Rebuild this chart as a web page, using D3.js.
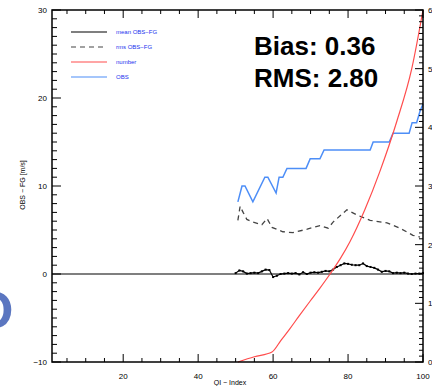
<!DOCTYPE html>
<html>
<head>
<meta charset="utf-8">
<script src="https://d3js.org/d3.v7.min.js"></script>
<style>
body { margin: 0; background: #fff; }
svg { display: block; font-family: "Liberation Sans", Arial, sans-serif; }
</style>
</head>
<body>
<div id="chart"></div>
<script>
// ---- data ----
var meanQI = [50,51,52,53,54,55,56,57,58,59,60,61,62,63,64,65,66,67,68,69,70,71,72,73,74,75,
              76,77,78,79,80,81,82,83,84,85,86,87,88,89,90,91,92,93,94,95,96,97,98,99,100];
var meanVal = [0.1,0.4,0.3,0.05,0.1,0.15,0.1,0.3,0.5,0.45,-0.35,-0.2,0.0,0.05,0.1,0.05,0.1,-0.05,0.2,0.0,
               0.15,0.2,0.15,0.25,0.35,0.3,0.5,0.8,1.0,1.2,1.15,1.05,1.0,1.0,1.2,0.9,0.8,0.7,0.5,0.25,
               0.35,0.3,0.1,0.15,0.1,0.15,0.05,0.0,0.05,0.05,0.1];

var rmsQI  = [50.6,51.2,52.0,53.0,54.6,57.0,58.4,59.7,62.6,65.3,69.1,72.5,74.7,76.0,79.7,82.4,85.9,90.4,93.9,97.3,99.2];
var rmsVal = [6.1,7.7,7.0,6.2,5.9,5.6,6.3,5.3,4.8,4.7,5.1,5.5,5.2,5.9,7.3,6.7,6.1,5.8,5.2,4.4,4.2];

var numQI  = [50.6,55,59.7,62,64.5,67,69.9,72.5,75.2,78,80.5,84.5,88.5,93,97,100];
var numVal = [0,0.09,0.17,0.36,0.57,0.79,1.04,1.26,1.5,1.77,2.05,2.6,3.25,4.1,5.0,6.0];

var obsQI  = [50.6,51.7,52.5,54.6,57.8,58.6,60.8,61.6,62.6,63.7,68.8,69.9,72.5,73.6,85.9,86.7,91.0,92.0,96.3,97.1,98.3,99.2,100];
var obsVal = [8.2,10.0,10.0,8.2,11.0,11.0,9.2,11.0,11.0,12.0,12.0,13.1,13.1,14.1,14.1,15.0,15.0,16.0,16.0,17.2,17.2,18.5,19.3];

var legendLabels = ["mean OBS\u2212FG", "rms OBS\u2212FG", "number", "OBS"];
var xTickLabels = [20, 40, 60, 80, 100];
var yTickLabels = [-10, 0, 10, 20, 30];
var rightTickLabels = [0, 1, 2, 3, 4, 5, 6];

var W = 432, H = 386;
var svg = d3.select("#chart").append("svg").attr("width", W).attr("height", H);

var x = d3.scaleLinear().domain([1, 100]).range([52, 423]);
var y = d3.scaleLinear().domain([-10, 30]).range([362, 10]);
var yr = d3.scaleLinear().domain([0, 6]).range([362, 10]);

// big cropped blue letter at left edge
svg.append("text").attr("x", -27).attr("y", 328)
  .attr("font-size", 52).attr("font-weight", "bold")
  .attr("fill", "#5b76c0").text("O");

// zero line
svg.append("line").attr("x1", x(1)).attr("x2", x(100))
  .attr("y1", y(0)).attr("y2", y(0))
  .attr("stroke", "#000").attr("stroke-width", 1.2);

var line = d3.line().x(function(d) { return x(d[0]); }).y(function(d) { return y(d[1]); });
var lineR = d3.line().curve(d3.curveMonotoneX)
  .x(function(d) { return x(d[0]); }).y(function(d) { return yr(d[1]); });

svg.append("path").datum(d3.zip(obsQI, obsVal)).attr("d", line)
  .attr("fill", "none").attr("stroke", "#4d8ef7").attr("stroke-width", 1.5);

svg.append("path").datum(d3.zip(rmsQI, rmsVal)).attr("d", line)
  .attr("fill", "none").attr("stroke", "#444").attr("stroke-width", 1.3)
  .attr("stroke-dasharray", "5,4");

svg.append("path").datum(d3.zip(meanQI, meanVal)).attr("d", line)
  .attr("fill", "none").attr("stroke", "#000").attr("stroke-width", 1.2);
svg.selectAll(".dot").data(d3.zip(meanQI, meanVal)).enter().append("rect")
  .attr("x", function(d) { return x(d[0]) - 1; }).attr("y", function(d) { return y(d[1]) - 1; })
  .attr("width", 2).attr("height", 2).attr("fill", "#000");

svg.append("path").datum(d3.zip(numQI, numVal)).attr("d", lineR)
  .attr("fill", "none").attr("stroke", "#ff4c4c").attr("stroke-width", 1.2);

// axes (ticks pointing inward)
function ticksX(g, dir) {
  var minor = d3.range(5, 101, 5);
  g.selectAll("line").data(minor).enter().append("line")
    .attr("x1", function(d) { return x(d); }).attr("x2", function(d) { return x(d); })
    .attr("y1", 0).attr("y2", function(d) { return dir * (d % 20 === 0 ? 8 : 4); })
    .attr("stroke", "#000").attr("stroke-width", 1);
}
var axBottom = svg.append("g").attr("transform", "translate(0," + y(-10) + ")");
ticksX(axBottom, -1);
var axTop = svg.append("g").attr("transform", "translate(0," + y(30) + ")");
ticksX(axTop, 1);

var axLeft = svg.append("g");
axLeft.selectAll("line").data(d3.range(-10, 31, 1)).enter().append("line")
  .attr("x1", x(1)).attr("x2", function(d) { return x(1) + (d % 10 === 0 ? 9 : 5); })
  .attr("y1", function(d) { return y(d); }).attr("y2", function(d) { return y(d); })
  .attr("stroke", "#000").attr("stroke-width", 1);

var axRight = svg.append("g");
axRight.selectAll("line").data(d3.range(0, 61, 1)).enter().append("line")
  .attr("x1", x(100)).attr("x2", function(d) { return x(100) - (d % 10 === 0 ? 8 : 4); })
  .attr("y1", function(d) { return yr(d / 10); }).attr("y2", function(d) { return yr(d / 10); })
  .attr("stroke", "#000").attr("stroke-width", 1);

svg.append("rect").attr("x", x(1)).attr("y", y(30))
  .attr("width", x(100) - x(1)).attr("height", y(-10) - y(30))
  .attr("fill", "none").attr("stroke", "#000").attr("stroke-width", 1.5);

// tick labels
svg.selectAll(".xl").data(xTickLabels).enter().append("text")
  .attr("x", function(d) { return x(d); }).attr("y", 379)
  .attr("text-anchor", "middle").attr("font-size", 8).text(function(d) { return d; });
svg.selectAll(".yl").data(yTickLabels).enter().append("text")
  .attr("x", 47).attr("y", function(d) { return y(d) + 3; })
  .attr("text-anchor", "end").attr("font-size", 8)
  .text(function(d) { return d < 0 ? "\u2212" + Math.abs(d) : d; });
svg.selectAll(".rl").data(rightTickLabels).enter().append("text")
  .attr("x", 428).attr("y", function(d) { return yr(d) + 3; })
  .attr("font-size", 8).text(function(d) { return d; });

svg.append("text").attr("x", 230).attr("y", 385).attr("text-anchor", "middle")
  .attr("font-size", 7).text("QI \u2212 Index");
svg.append("text").attr("transform", "translate(25,185) rotate(-90)")
  .attr("text-anchor", "middle").attr("font-size", 7).text("OBS \u2212 FG [m/s]");

// legend
var legColors = ["#000", "#444", "#ff4c4c", "#4d8ef7"];
var legDash = [null, "5,4", null, null];
var legY = [32, 47, 62, 77];
legendLabels.forEach(function(t, i) {
  svg.append("line").attr("x1", 71).attr("x2", 107).attr("y1", legY[i]).attr("y2", legY[i])
    .attr("stroke", legColors[i]).attr("stroke-width", 1.2)
    .attr("stroke-dasharray", legDash[i]);
  svg.append("text").attr("x", 116).attr("y", legY[i] + 2).attr("font-size", 6)
    .attr("fill", "#2233ee").text(t);
});

// stats text
svg.append("text").attr("x", 254).attr("y", 55).attr("font-size", 26)
  .attr("font-weight", "bold").text("Bias: 0.36");
svg.append("text").attr("x", 254).attr("y", 87).attr("font-size", 26)
  .attr("font-weight", "bold").text("RMS: 2.80");
</script>
</body>
</html>
